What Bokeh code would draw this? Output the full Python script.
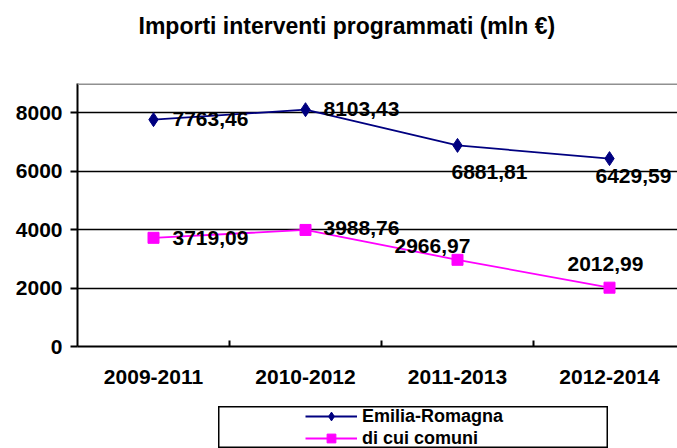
from bokeh.plotting import figure
from bokeh.models import (Range1d, FixedTicker, ColumnDataSource, Span, Legend,
                          LegendItem, Spacer)
from bokeh.layouts import column, row
from bokeh.core.properties import value
from bokeh.embed import file_html
from bokeh.resources import INLINE

# ---- data ----
periods = ["2009-2011", "2010-2012", "2011-2013", "2012-2014"]
emilia_romagna = [7763.46, 8103.43, 6881.81, 6429.59]
comuni = [3719.09, 3988.76, 2966.97, 2012.99]
y_ticks = [0, 2000, 4000, 6000, 8000]
title_text = "Importi interventi programmati (mln €)"
series_names = ["Emilia-Romagna", "di cui comuni"]

# ---- label placement (screen px, y down) ----
er_dx = [19, 18, -6, -14]
er_dy = [-1, -1, 27, 17]
co_dx = [19, 18, -63, -42]
co_dy = [0, -2, -14, -24]

FONT = "Liberation Sans"
NAVY = "#000080"
MAGENTA = "#FF00FF"

xpos = [i + 0.5 for i in range(len(periods))]

def fmt(v):
    return f"{v:.2f}".replace(".", ",")

# ---- title strip ----
p0 = figure(width=677, height=45, output_backend="svg", toolbar_location=None,
            x_range=Range1d(0, 1), y_range=Range1d(0, 1),
            x_axis_type=None, y_axis_type=None,
            min_border_left=0, min_border_right=0, min_border_bottom=0,
            min_border_top=43)
p0.grid.visible = False
p0.outline_line_color = None
p0.title.text = title_text
p0.title.align = "left"
p0.title.offset = 61
p0.title.standoff = 10
p0.title.text_font = FONT
p0.title.text_font_size = "23px"
p0.title.text_font_style = "bold"
p0.title.text_color = "black"

# ---- main chart ----
p = figure(width=677, height=361, output_backend="svg", toolbar_location=None,
           x_range=Range1d(0, 600 / 152), y_range=Range1d(0, 9000),
           min_border_left=77, min_border_right=0, min_border_top=38,
           min_border_bottom=60)
p.title.visible = False
p.outline_line_color = None
p.background_fill_color = "white"
p.border_fill_color = "white"

# axes
p.xaxis.ticker = FixedTicker(ticks=xpos, minor_ticks=[1, 2, 3])
p.xaxis.major_label_overrides = {x: lab for x, lab in zip(xpos, periods)}
p.xaxis.major_tick_in = 0
p.xaxis.major_tick_out = 0
p.xaxis.minor_tick_in = 6
p.xaxis.minor_tick_out = 0
p.xaxis.minor_tick_line_color = "black"
p.xaxis.minor_tick_line_width = 2
p.xaxis.axis_line_color = "black"
p.xaxis.axis_line_width = 2
p.xaxis.major_label_standoff = 23

p.yaxis.ticker = FixedTicker(ticks=y_ticks, minor_ticks=[])
p.yaxis.major_tick_in = 0
p.yaxis.major_tick_out = 7
p.yaxis.major_tick_line_color = "black"
p.yaxis.major_tick_line_width = 2
p.yaxis.axis_line_color = "black"
p.yaxis.axis_line_width = 2
p.yaxis.major_label_standoff = 8

for ax in (p.xaxis, p.yaxis):
    ax.major_label_text_font = FONT
    ax.major_label_text_font_size = "21px"
    ax.major_label_text_font_style = "bold"
    ax.major_label_text_color = "black"

p.xgrid.grid_line_color = None
p.ygrid.grid_line_color = "black"
p.ygrid.grid_line_width = 1.5
p.ygrid.ticker = FixedTicker(ticks=y_ticks[1:])

p.add_layout(Span(location=9000, dimension="width", line_color="#909090",
                  line_width=3))

er_src = ColumnDataSource(dict(x=xpos, y=emilia_romagna,
                               lab=[fmt(v) for v in emilia_romagna],
                               dx=er_dx, dy=er_dy))
co_src = ColumnDataSource(dict(x=xpos, y=comuni,
                               lab=[fmt(v) for v in comuni],
                               dx=co_dx, dy=co_dy))

p.line("x", "y", source=er_src, line_color=NAVY, line_width=1.8)
p.scatter("x", "y", source=er_src, marker="diamond", size=14,
          fill_color=NAVY, line_color=NAVY)
p.line("x", "y", source=co_src, line_color=MAGENTA, line_width=1.8)
p.scatter("x", "y", source=co_src, marker="square", size=11,
          fill_color=MAGENTA, line_color=MAGENTA)

for src in (er_src, co_src):
    p.text("x", "y", text="lab", source=src, x_offset="dx", y_offset="dy",
           text_font=value(FONT), text_font_size="21px",
           text_font_style="bold", text_color="black",
           text_align="left", text_baseline="middle")

# ---- legend box (series drawn off-view, only their legend glyphs show) ----
p2 = figure(width=390, height=42, output_backend="svg", toolbar_location=None,
            x_range=Range1d(0, 1), y_range=Range1d(-2, -1),
            min_border=0)
p2.axis.visible = False
p2.grid.visible = False
p2.outline_line_color = "black"
p2.outline_line_width = 2
p2.title.visible = False
l1 = p2.line("x", "y", source=er_src, line_color=NAVY, line_width=1.8)
s1 = p2.scatter("x", "y", source=er_src, marker="diamond", size=14,
                fill_color=NAVY, line_color=NAVY)
l2 = p2.line("x", "y", source=co_src, line_color=MAGENTA, line_width=1.8)
s2 = p2.scatter("x", "y", source=co_src, marker="square", size=11,
                fill_color=MAGENTA, line_color=MAGENTA)
leg = Legend(items=[LegendItem(label=series_names[0], renderers=[l1, s1]),
                    LegendItem(label=series_names[1], renderers=[l2, s2])],
             location=(87, -1), padding=0, margin=0, spacing=0,
             glyph_width=52, glyph_height=22, label_height=22,
             label_standoff=5,
             label_text_font=FONT, label_text_font_size="18px",
             label_text_font_style="bold", label_text_color="black",
             border_line_color=None, background_fill_alpha=0)
p2.add_layout(leg)

layout = column(p0, p, row(Spacer(width=218), p2, spacing=0), spacing=0)

open("out.html", "w").write(file_html(layout, INLINE))
